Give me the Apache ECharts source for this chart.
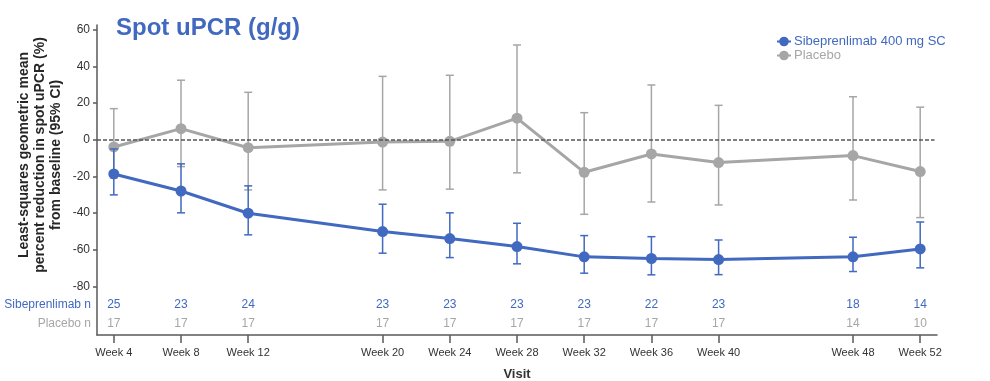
<!DOCTYPE html>
<html>
<head>
<meta charset="utf-8">
<script src="https://cdn.jsdelivr.net/npm/echarts@6/dist/echarts.min.js"></script>
<style>
html,body{margin:0;padding:0;background:#fff;}
#c{width:990px;height:381px;}
</style>
</head>
<body>
<div id="c"></div>
<script>
const weeks = [4, 8, 12, 20, 24, 28, 32, 36, 40, 48, 52];
const yTicks = [-80, -60, -40, -20, 0, 20, 40, 60];

const sibMean = [-18.7, -28.0, -40.1, -50.1, -53.9, -58.3, -63.9, -64.8, -65.4, -63.9, -59.6];
const sibLow  = [-30.1, -39.9, -51.9, -61.9, -64.3, -67.7, -72.8, -73.7, -73.6, -71.9, -69.9];
const sibHigh = [-5.1, -13.2, -25.2, -35.2, -39.9, -45.6, -52.3, -52.9, -54.7, -53.2, -44.9];

const pboMean = [-4.0, 6.0, -4.4, -1.3, -0.9, 11.7, -17.8, -7.8, -12.5, -8.7, -17.4];
const pboLow  = [-20.9, -14.7, -27.4, -27.4, -27.0, -18.1, -40.7, -34.0, -35.6, -32.9, -42.5];
const pboHigh = [16.9, 32.4, 25.8, 34.5, 35.1, 51.6, 14.7, 29.8, 18.7, 23.4, 17.7];

const sibN = [25, 23, 24, 23, 23, 23, 23, 22, 23, 18, 14];
const pboN = [17, 17, 17, 17, 17, 17, 17, 17, 17, 14, 10];

const BLUE = '#4169BF';
const GRAY = '#A6A6A6';
const FONT = '"Liberation Sans", Arial, sans-serif';

function errorBar(color) {
  return function (params, api) {
    const x = api.value(0);
    const pLo = api.coord([x, api.value(1)]);
    const pHi = api.coord([x, api.value(2)]);
    const w = 4;
    const st = { stroke: color, lineWidth: 1.5 };
    return {
      type: 'group',
      children: [
        { type: 'line', shape: { x1: pLo[0], y1: pLo[1], x2: pHi[0], y2: pHi[1] }, style: st },
        { type: 'line', shape: { x1: pLo[0] - w, y1: pLo[1], x2: pLo[0] + w, y2: pLo[1] }, style: st },
        { type: 'line', shape: { x1: pHi[0] - w, y1: pHi[1], x2: pHi[0] + w, y2: pHi[1] }, style: st }
      ]
    };
  };
}

function nRow(color, rowY) {
  return function (params, api) {
    const p = api.coord([api.value(0), rowY]);
    return {
      type: 'text',
      x: p[0], y: p[1],
      style: { text: String(api.value(1)), fill: color, font: '12px ' + FONT, align: 'center', verticalAlign: 'middle' }
    };
  };
}

const chart = echarts.init(document.getElementById('c'), null, { renderer: 'canvas' });
chart.setOption({
  animation: false,
  backgroundColor: '#fff',
  textStyle: { fontFamily: FONT },
  grid: { left: 97, right: 53, top: 25, bottom: 46, containLabel: false, outerBoundsMode: 'none' },
  legend: {
    orient: 'vertical',
    left: 771, top: 30,
    itemWidth: 14, itemHeight: 12, itemGap: 1,
    data: [
      { name: 'Sibeprenlimab 400 mg SC', textStyle: { color: BLUE } },
      { name: 'Placebo', textStyle: { color: GRAY } }
    ],
    textStyle: { fontSize: 13, fontFamily: FONT, padding: [0, 0, 0, -2] }
  },
  graphic: [
    { type: 'text', x: 116, y: 28, style: { text: 'Spot uPCR (g/g)', fill: BLUE, font: 'bold 24px ' + FONT, verticalAlign: 'middle', align: 'left' } },
    { type: 'text', x: 40, y: 155, rotation: Math.PI / 2,
      style: { text: 'Least-squares geometric mean\npercent reduction in spot uPCR (%)\nfrom baseline (95% CI)', fill: '#262626', font: 'bold 14px ' + FONT, align: 'center', verticalAlign: 'middle', lineHeight: 16 } },
    { type: 'text', x: 91, y: 304.5, style: { text: 'Sibeprenlimab n', fill: BLUE, font: '12px ' + FONT, align: 'right', verticalAlign: 'middle' } },
    { type: 'text', x: 91, y: 323.5, style: { text: 'Placebo n', fill: GRAY, font: '12px ' + FONT, align: 'right', verticalAlign: 'middle' } }
  ],
  xAxis: {
    type: 'value', min: 3, max: 53,
    name: 'Visit', nameLocation: 'middle', nameGap: 33,
    nameTextStyle: { fontWeight: 'bold', fontSize: 13, color: '#333' },
    axisLine: { show: true, onZero: false, lineStyle: { color: '#595959', width: 1.5 } },
    axisTick: { show: true, customValues: weeks, length: 8, lineStyle: { color: '#595959', width: 1.5 } },
    axisLabel: { customValues: weeks, formatter: v => 'Week ' + v, fontSize: 11, color: '#333', margin: 12 },
    splitLine: { show: false }
  },
  yAxis: {
    type: 'value', min: -106.5, max: 62.5,
    axisLine: { show: true, lineStyle: { color: '#595959', width: 1.5 } },
    axisTick: { show: true, customValues: yTicks, length: 4, lineStyle: { color: '#595959', width: 1.5 } },
    axisLabel: { customValues: yTicks, fontSize: 12, color: '#333', margin: 7 },
    splitLine: { show: false }
  },
  series: [
    {
      type: 'custom', name: 'pboErr', renderItem: errorBar(GRAY), silent: true, z: 2,
      encode: { x: 0, y: [1, 2] },
      data: weeks.map((w, i) => [w, pboLow[i], pboHigh[i]])
    },
    {
      type: 'line', name: 'Placebo', z: 3,
      data: weeks.map((w, i) => [w, pboMean[i]]),
      symbol: 'circle', symbolSize: 11,
      lineStyle: { color: GRAY, width: 3 }, itemStyle: { color: GRAY },
      markLine: {
        silent: true, symbol: 'none', label: { show: false },
        lineStyle: { color: '#555', type: [4, 2], width: 1.5 },
        data: [[{ coord: [3, 0] }, { coord: [52.85, 0] }]]
      }
    },
    {
      type: 'custom', name: 'sibErr', renderItem: errorBar(BLUE), silent: true, z: 4,
      encode: { x: 0, y: [1, 2] },
      data: weeks.map((w, i) => [w, sibLow[i], sibHigh[i]])
    },
    {
      type: 'line', name: 'Sibeprenlimab 400 mg SC', z: 5,
      data: weeks.map((w, i) => [w, sibMean[i]]),
      symbol: 'circle', symbolSize: 11,
      lineStyle: { color: BLUE, width: 3 }, itemStyle: { color: BLUE }
    },
    {
      type: 'custom', name: 'sibN', renderItem: nRow(BLUE, -89.8), silent: true, clip: false,
      encode: { x: 0 },
      data: weeks.map((w, i) => [w, sibN[i]])
    },
    {
      type: 'custom', name: 'pboN', renderItem: nRow(GRAY, -100.2), silent: true, clip: false,
      encode: { x: 0 },
      data: weeks.map((w, i) => [w, pboN[i]])
    }
  ]
});
</script>
</body>
</html>
